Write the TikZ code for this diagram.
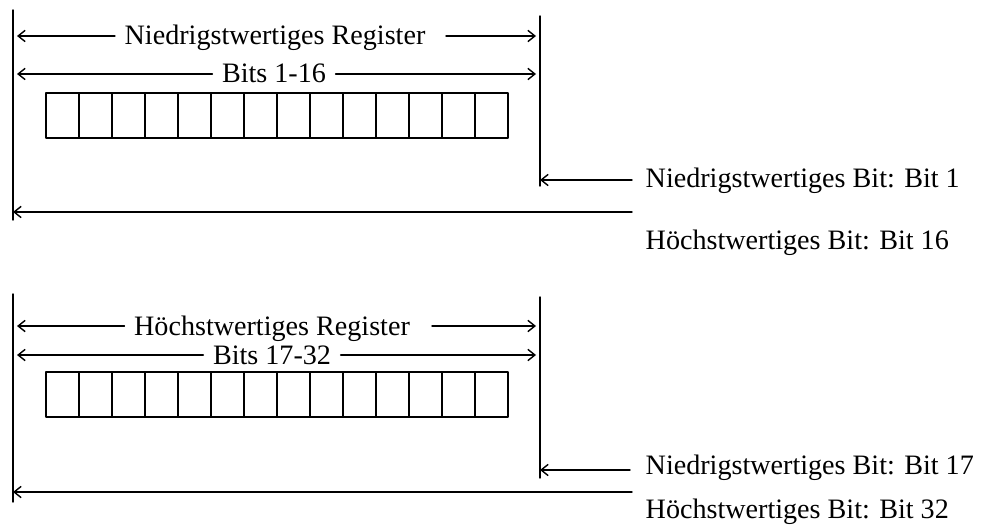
\documentclass[tikz,border=0pt]{standalone}
\usepackage{fontspec}
\setmainfont{Liberation Serif}
\usetikzlibrary{arrows.meta}
\tikzset{
  lbl/.style={inner sep=0pt, anchor=base},
  note/.style={inner sep=0pt, anchor=base west},
  frame/.style={line width=1.4pt},
  cell/.style={line width=1pt},
}
\begin{document}
\begin{tikzpicture}[x=0.025cm, y=-0.025cm, font=\fontsize{20}{24}\selectfont, line join=round, line cap=round, >={Straight Barb[length=5pt,width=8pt]}, line width=1pt]
	\useasboundingbox (0,0) rectangle (981,525);
	% niedrigstwertiges Register, Bits 1-16
	\coordinate (lo-lt) at (13,10);
	\coordinate (lo-lb) at (13,220);
	\coordinate (lo-rt) at (540,16);
	\coordinate (lo-rb) at (540,186);
	\draw (lo-lt) -- (lo-lb);
	\draw (lo-rt) -- (lo-rb);
	\node[lbl] (lo-reg) at (275,45) {Niedrigstwertiges Register};
	\coordinate (lo-a1) at (17,36);
	\coordinate (lo-a2) at (446,36);
	\coordinate (lo-a3) at (536,36);
	\draw[->] (lo-reg.west |- lo-a1) ++(-9,0) -- (lo-a1);
	\draw[->] (lo-a2) -- (lo-a3);
	\node[lbl] (lo-bits) at (274,83) {Bits 1-16};
	\coordinate (lo-b1) at (17,74);
	\coordinate (lo-b2) at (536,74);
	\draw[->] (lo-bits.west |- lo-b1) ++(-9,0) -- (lo-b1);
	\draw[->] (lo-bits.east |- lo-b2) ++(9,0) -- (lo-b2);
	\draw[frame] (46,93) rectangle (508,138);
	\foreach \i in {1,...,13}
		\draw[cell] ({46+\i*33},93) -- ({46+\i*33},138);
	\node[note] (lo-lsb) at (645,188) {Niedrigstwertiges Bit: Bit 1};
	\coordinate (lo-c1) at (632,180);
	\draw[->] (lo-c1) -- (lo-rb |- lo-c1);
	\node[note] (lo-msb) at (645,249) {Höchstwertiges Bit: Bit 16};
	\coordinate (lo-d1) at (632,212);
	\draw[->] (lo-d1) -- (lo-lb |- lo-d1);
	% hoechstwertiges Register, Bits 17-32
	\coordinate (hi-lt) at (13,294);
	\coordinate (hi-lb) at (13,502);
	\coordinate (hi-rt) at (540,297);
	\coordinate (hi-rb) at (540,478);
	\draw (hi-lt) -- (hi-lb);
	\draw (hi-rt) -- (hi-rb);
	\node[lbl] (hi-reg) at (272,335) {Höchstwertiges Register};
	\coordinate (hi-a1) at (17,326);
	\coordinate (hi-a2) at (432,326);
	\coordinate (hi-a3) at (536,326);
	\draw[->] (hi-reg.west |- hi-a1) ++(-9,0) -- (hi-a1);
	\draw[->] (hi-a2) -- (hi-a3);
	\node[lbl] (hi-bits) at (272,364) {Bits 17-32};
	\coordinate (hi-b1) at (17,355);
	\coordinate (hi-b2) at (536,355);
	\draw[->] (hi-bits.west |- hi-b1) ++(-9,0) -- (hi-b1);
	\draw[->] (hi-bits.east |- hi-b2) ++(9,0) -- (hi-b2);
	\draw[frame] (46,372) rectangle (508,417);
	\foreach \i in {1,...,13}
		\draw[cell] ({46+\i*33},372) -- ({46+\i*33},417);
	\node[note] (hi-lsb) at (645,474) {Niedrigstwertiges Bit: Bit 17};
	\coordinate (hi-c1) at (630,470);
	\draw[->] (hi-c1) -- (hi-rb |- hi-c1);
	\node[note] (hi-msb) at (645,518) {Höchstwertiges Bit: Bit 32};
	\coordinate (hi-d1) at (632,492);
	\draw[->] (hi-d1) -- (hi-lb |- hi-d1);
\end{tikzpicture}
\end{document}
